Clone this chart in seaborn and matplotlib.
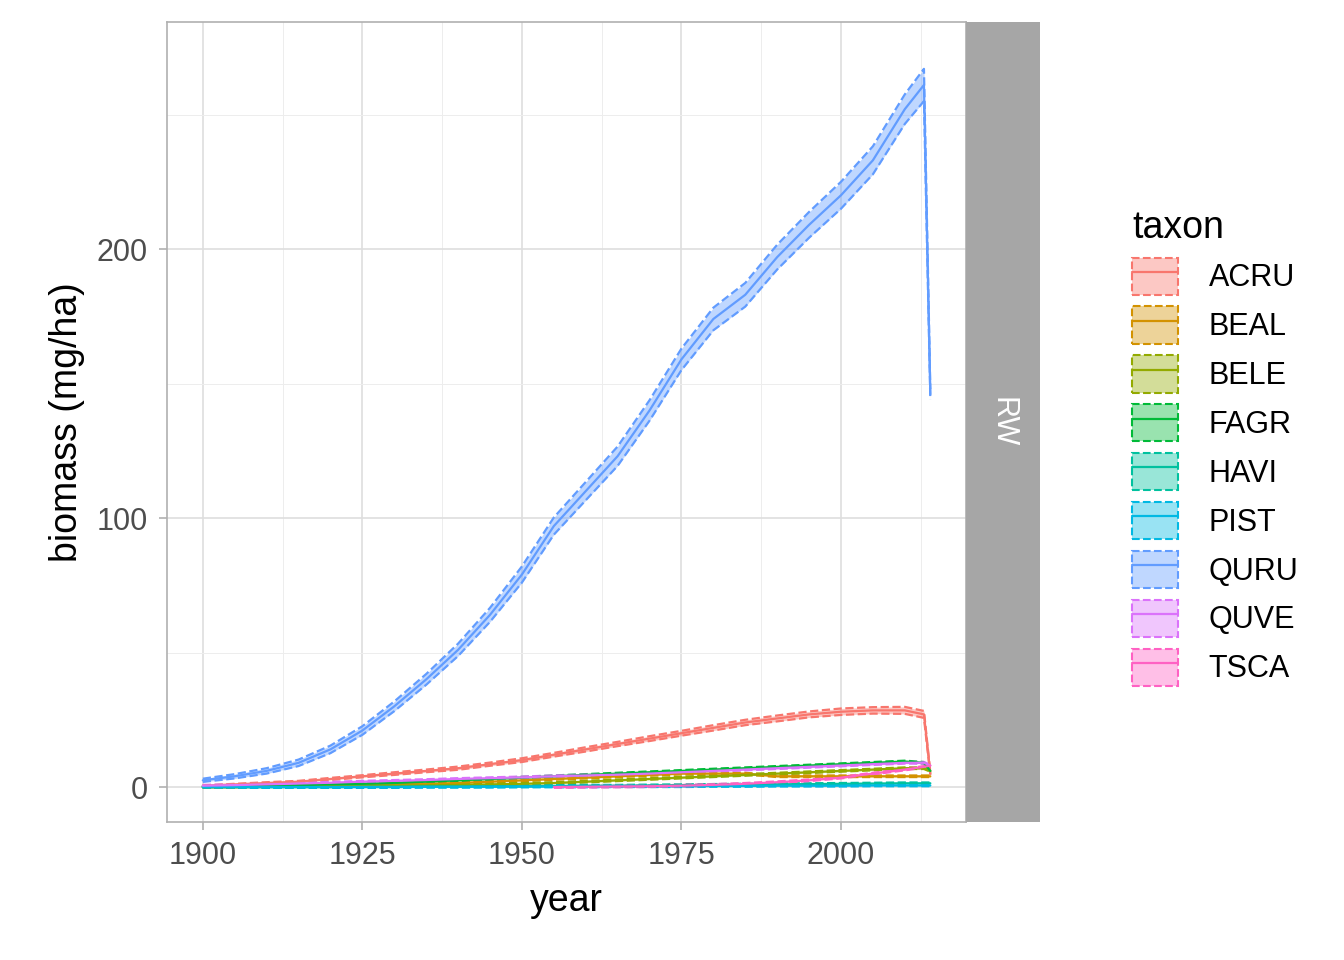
import numpy as np
import pandas as pd
import matplotlib
matplotlib.use("Agg")
import matplotlib.pyplot as plt
import seaborn as sns
from matplotlib.patches import Patch
from matplotlib.lines import Line2D

taxa = ["ACRU", "BEAL", "BELE", "FAGR", "HAVI", "PIST", "QURU", "QUVE", "TSCA"]
colors = ["#F8766D", "#D39200", "#93AA00", "#00BA38", "#00C19F",
          "#00B9E3", "#619CFF", "#DB72FB", "#FF61C3"]

years = [1900, 1905, 1910, 1915, 1920, 1925, 1930, 1935, 1940, 1945, 1950,
         1955, 1960, 1965, 1970, 1975, 1980, 1985, 1990, 1995, 2000, 2005,
         2010, 2013, 2014]

mean = {
    "ACRU": [0.5, 1, 1.5, 2, 3, 4, 5, 6, 7, 8.5, 10, 12, 14, 16, 18, 20, 22, 24, 25.5, 27, 28, 28.5, 28.5, 27, 5],
    "BEAL": [0, 0, 0.2, 0.3, 0.5, 0.7, 1, 1.2, 1.5, 2, 2.5, 3, 3.5, 4, 4.5, 5, 5, 5, 4, 4, 4, 4, 4, 4, 4],
    "BELE": [0, 0, 0.1, 0.2, 0.3, 0.4, 0.5, 0.6, 0.8, 1, 1.2, 1.5, 2, 2.5, 3, 3.5, 4, 4.5, 5, 5.5, 6, 6.5, 7, 7, 6],
    "FAGR": [0.2, 0.3, 0.5, 0.7, 1, 1.2, 1.5, 2, 2.5, 3, 3.5, 4, 4.5, 5, 5.5, 6, 6.5, 7, 7.5, 8, 8.5, 9, 9.5, 9, 6],
    "HAVI": [0, 0, 0, 0, 0, 0.1, 0.1, 0.2, 0.2, 0.3, 0.3, 0.4, 0.5, 0.5, 0.6, 0.7, 0.8, 0.9, 1, 1.1, 1.2, 1.3, 1.4, 1.4, 1.4],
    "PIST": [0, 0, 0, 0, 0, 0, 0, 0.1, 0.1, 0.1, 0.2, 0.2, 0.2, 0.3, 0.3, 0.3, 0.4, 0.4, 0.5, 0.5, 0.5, 0.6, 0.6, 0.6, 0.6],
    "QURU": [2.5, 4, 6, 9, 14, 21, 30, 40, 51, 64, 79, 97, 110, 123, 140, 159, 174, 183, 197, 209, 220, 233, 252, 261, 146],
    "QUVE": [0.5, 0.7, 1, 1.3, 1.6, 2, 2.3, 2.6, 3, 3.3, 3.6, 4, 4.3, 4.6, 5, 5.5, 6, 6.5, 7, 7.5, 8, 8.5, 9, 9, 8],
    "TSCA": [np.nan] * 11 + [0, 0.1, 0.2, 0.3, 0.5, 0.8, 1.2, 1.8, 2.5, 3.5, 5, 6.5, 7.5, 8],
}
spread = {
    "ACRU": [0.1, 0.2, 0.3, 0.3, 0.4, 0.4, 0.5, 0.5, 0.6, 0.6, 0.7, 0.7, 0.8, 0.8, 0.9, 0.9, 1, 1, 1.1, 1.1, 1.2, 1.2, 1.3, 1.3, 0.5],
    "QURU": [0.6, 0.8, 1, 1.2, 1.4, 1.6, 1.8, 2, 2.3, 2.6, 3, 3.2, 3.4, 3.6, 3.8, 4, 4.2, 4.4, 4.6, 4.8, 5, 5.2, 5.5, 6, 2],
}

rows = []
for t in taxa:
    for i, y in enumerate(years):
        rows.append({"year": y, "biomass": mean[t][i], "taxon": t})
df = pd.DataFrame(rows).dropna()

sns.set_theme(style="whitegrid")
plt.rcParams["font.family"] = ["Liberation Sans", "DejaVu Sans"]

fig = plt.figure(figsize=(13.44, 9.6), dpi=100)
ax = fig.add_axes([0.1243, 0.14375, 0.5945, 0.8333])

for t, c in zip(taxa, colors):
    m = np.array(mean[t], dtype=float)
    s = np.array(spread.get(t, [0.3] * len(years)), dtype=float)
    ax.fill_between(years, m - s, m + s, color=c, alpha=0.4, linewidth=0)
    ax.plot(years, m - s, color=c, ls="--", lw=1.6)
    ax.plot(years, m + s, color=c, ls="--", lw=1.6)

sns.lineplot(data=df, x="year", y="biomass", hue="taxon", hue_order=taxa,
             palette=colors, ax=ax, lw=1.6, legend=False, errorbar=None)

ax.set_xlim(1894.4, 2019.6)
ax.set_ylim(-13, 284.4)
ax.set_xticks([1900, 1925, 1950, 1975, 2000])
ax.set_yticks([0, 100, 200])
ax.set_xticks([1912.5, 1937.5, 1962.5, 1987.5, 2012.5], minor=True)
ax.set_yticks([50, 150, 250], minor=True)
ax.grid(which="major", color="#DEDEDE", lw=1.2)
ax.grid(which="minor", color="#EDEDED", lw=0.7)
for sp in ax.spines.values():
    sp.set_color("#B0B0B0")
    sp.set_linewidth(1.2)
ax.tick_params(which="major", labelsize=22, labelcolor="#4D4D4D", color="#B0B0B0",
               length=6, width=1.2, pad=8, bottom=True, left=True)
ax.tick_params(which="minor", length=0)
ax.set_xlabel("year", fontsize=27, color="black", labelpad=8)
ax.set_ylabel("biomass (mg/ha)", fontsize=27, color="black", labelpad=8)

sax = fig.add_axes([0.71875, 0.14375, 0.055, 0.8333])
sax.set_facecolor("#A6A6A6")
sax.set_xticks([])
sax.set_yticks([])
for sp in sax.spines.values():
    sp.set_visible(False)
sax.text(0.5, 0.5, "RW", rotation=-90, color="white", fontsize=22,
         ha="center", va="center", transform=sax.transAxes)

handles = [(Patch(facecolor=c, alpha=0.4, edgecolor="none"),
            Patch(facecolor="none", edgecolor=c, linestyle="--", lw=1.5),
            Line2D([0], [0], color=c, lw=1.6)) for c in colors]
leg = fig.legend(handles, taxa, loc="upper left", bbox_to_anchor=(0.822, 0.81),
                 title="taxon", frameon=False, fontsize=22, title_fontsize=27,
                 handlelength=1.5, handleheight=1.5, labelspacing=0.38,
                 handletextpad=1.0)
leg._legend_box.align = "left"
leg.get_title().set_color("black")
for txt in leg.get_texts():
    txt.set_color("black")

fig.savefig("out.png", dpi=100)
